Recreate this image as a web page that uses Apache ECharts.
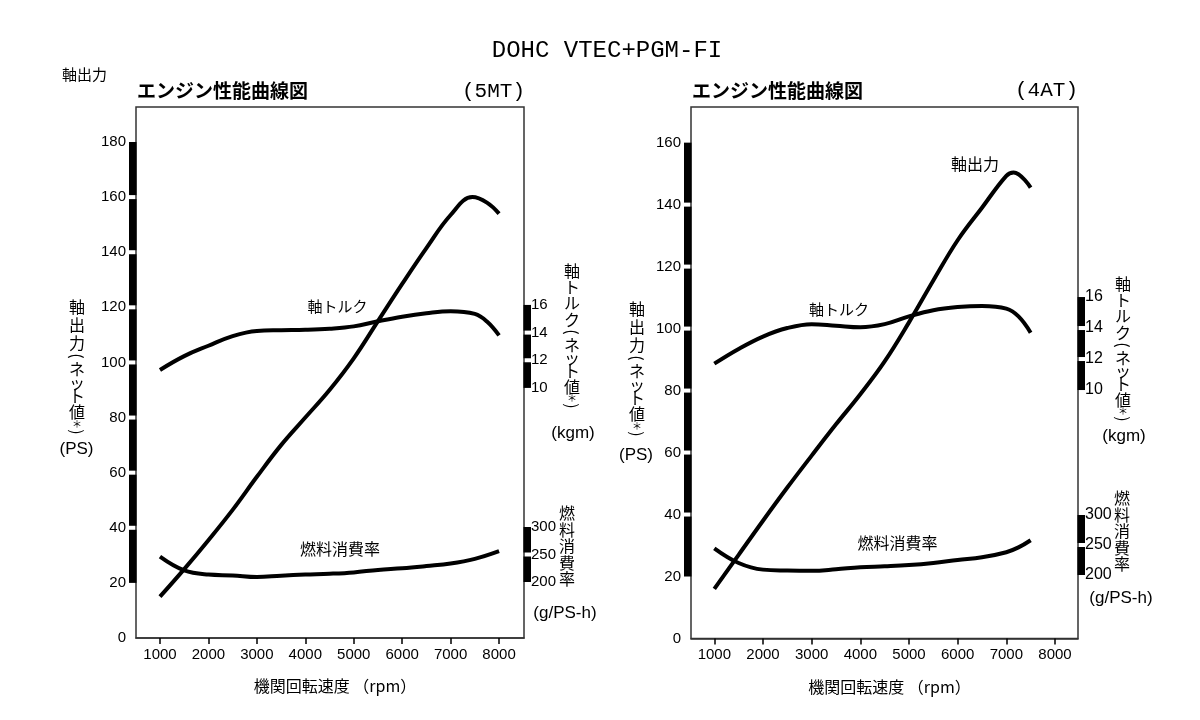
<!DOCTYPE html>
<html><head><meta charset="utf-8">
<script src="https://cdn.jsdelivr.net/npm/echarts@6/dist/echarts.min.js"></script>
<style>html,body{margin:0;padding:0;background:#fff}#c{width:1200px;height:720px}</style>
</head><body><div id="c"></div>
<script>
// ---- tick labels ----
const rpmTicks = [1000, 2000, 3000, 4000, 5000, 6000, 7000, 8000];
const psTicks5MT = [0, 20, 40, 60, 80, 100, 120, 140, 160, 180];
const psTicks4AT = [0, 20, 40, 60, 80, 100, 120, 140, 160];
const torqueTicks = [10, 12, 14, 16];
const fuelTicks = [200, 250, 300];

// ---- 5MT data ----
const rpmPower5MT = [1000,1500,2000,2500,3000,3500,4000,4500,5000,5500,6000,6500,7000,7450,7750,8000];
const power5MT    = [15,25,35.5,46.5,58.5,70,80,90,101.5,115,128.5,141.5,153.5,160,158,154];
const rpmTorque5MT = [1000,1500,2000,2500,3000,3500,4000,4500,5000,5500,6000,6500,7000,7500,7750,8000];
const torque5MT    = [11.3,12.3,13.05,13.75,14.12,14.17,14.2,14.28,14.45,14.82,15.15,15.4,15.55,15.35,14.8,13.8];
const rpmFuel5MT = [1000,1500,2000,2500,3000,3500,4000,4500,5000,5500,6000,6500,7000,7500,8000];
const fuel5MT    = [246,221,213.5,212,209,211.5,213.5,215,217.5,222,225,229,233.5,242,256];

// ---- 4AT data ----
const rpmPower4AT = [1000,1500,2000,2500,3000,3500,4000,4500,5000,5500,6000,6500,7000,7150,7500];
const power4AT    = [16,27,38,48.7,59,69.1,78.8,89.4,102,115.5,128.5,139,149.3,150.4,145.5];
const rpmTorque4AT = [1000,1500,2000,2500,3000,3500,4000,4500,5000,5500,6000,6500,7000,7250,7500];
const torque4AT    = [11.7,12.65,13.45,14.0,14.25,14.15,14.05,14.25,14.75,15.15,15.35,15.42,15.25,14.75,13.7];
const rpmFuel4AT = [1000,1500,2000,2500,3000,3500,4000,4500,5000,5500,6000,6500,7000,7250,7500];
const fuel4AT    = [244.5,220,209,207.5,207,209.5,213,214.5,216.5,220,225,229.5,238,246,258];

// ---- layout constants ----
const CJK = '"Noto Sans CJK JP", sans-serif';
const NUM = '"Liberation Sans", Arial, sans-serif';
const MONO = '"Liberation Mono", monospace';
const X5 = {min: 505, max: 8515};
const X4 = {min: 521, max: 8473};

const zip = (a, b) => a.map((v, i) => [v, b[i]]);
function segs(t) { const r = []; for (let i = 0; i < t.length - 1; i++) r.push([t[i], t[i + 1]]); return r; }

function axisBar(xi, yi, xVal, ticks, side) {
  const s = segs(ticks);
  return {
    type: 'custom', xAxisIndex: xi, yAxisIndex: yi, clip: false, silent: true, z: 5,
    data: s.map(v => [xVal, v[0], v[1]]),
    encode: {x: 0, y: [1, 2]},
    renderItem(params, api) {
      const lo = api.coord([api.value(0), api.value(1)]);
      const hi = api.coord([api.value(0), api.value(2)]);
      const i = params.dataIndex, n = s.length;
      const yb = lo[1] - (i > 0 ? 2 : 0);
      const yt = hi[1] + (i < n - 1 ? 2 : 0);
      const w = 7.5;
      const x = side === 'left' ? lo[0] - w + 0.5 : lo[0] - 0.5;
      return {type: 'rect', shape: {x: x, y: yt, width: w, height: yb - yt}, style: {fill: '#000'}};
    }
  };
}

function line(xi, yi, xs, ys) {
  return {
    type: 'line', xAxisIndex: xi, yAxisIndex: yi, data: zip(xs, ys),
    smooth: 0.4, symbol: 'none', silent: true,
    lineStyle: {color: '#000', width: 4}
  };
}

function xAxis(gi, ext) {
  return {
    type: 'value', gridIndex: gi, min: ext.min, max: ext.max,
    axisLine: {show: true, lineStyle: {color: '#333', width: 1.5}},
    axisTick: {show: true, customValues: rpmTicks, length: 6, lineStyle: {color: '#000', width: 1.5}},
    axisLabel: {customValues: rpmTicks, margin: 9, fontSize: 15, color: '#000', fontFamily: NUM,
      formatter: v => String(v)},
    splitLine: {show: false},
    name: '機関回転速度 （rpm）', nameLocation: 'middle', nameGap: 40,
    nameTextStyle: {fontSize: 16, fontFamily: CJK, color: '#000', padding: [0, 0, 0, 10]}
  };
}
function yAxis(gi, pos, min, max, ticks, margin, fs) {
  return {
    type: 'value', gridIndex: gi, position: pos, min: min, max: max,
    axisLine: {show: false}, axisTick: {show: false}, splitLine: {show: false},
    axisLabel: {customValues: ticks, margin: margin, fontSize: fs, color: '#000', fontFamily: NUM,
      formatter: v => String(v)}
  };
}

function txt(x, y, text, font, align, vAlign) {
  return {type: 'text', x: x, y: y, silent: true,
    style: {text: text, font: font, fill: '#000', align: align || 'center', verticalAlign: vAlign || 'middle'}};
}
// vertical (tategaki) label: one glyph per step, brackets turned sideways
function vtext(x, yTop, chars, big) {
  const step = c => ('()'.includes(c) ? 8 : c === '＊' ? 7 : c === 'ッ' ? 10 : c === 'ト' ? 15 : big);
  let y = yTop;
  const children = [];
  for (const c of Array.from(chars)) {
    const h = step(c);
    const el = {type: 'text', x: x, y: y + h / 2,
      style: {text: c, font: (c === '＊' ? '10px ' : '16px ') + CJK, fill: '#000', align: 'center', verticalAlign: 'middle'}};
    if ('()'.includes(c)) el.rotation = -Math.PI / 2;
    children.push(el);
    y += h;
  }
  return {type: 'group', silent: true, children: children};
}

const chart = echarts.init(document.getElementById('c'), null, {renderer: 'canvas'});
chart.setOption({
  animation: false,
  backgroundColor: '#fff',
  grid: [
    {left: 136, top: 107, width: 388, height: 531, show: true, borderColor: '#333', borderWidth: 1.5, backgroundColor: '#fff'},
    {left: 691, top: 107, width: 387, height: 531.5, show: true, borderColor: '#333', borderWidth: 1.5, backgroundColor: '#fff'}
  ],
  xAxis: [xAxis(0, X5), xAxis(1, X4)],
  yAxis: [
    yAxis(0, 'left', 0, 192.7, psTicks5MT, 10, 15),
    yAxis(0, 'right', -8.08, 30.31, torqueTicks, 7, 15),
    yAxis(0, 'right', 98.2, 1063.6, fuelTicks, 7, 15),
    yAxis(1, 'left', 0, 171.5, psTicks4AT, 10, 15),
    yAxis(1, 'right', -6.03, 28.26, torqueTicks, 7, 16),
    yAxis(1, 'right', 94.2, 980, fuelTicks, 7, 16)
  ],
  series: [
    line(0, 0, rpmPower5MT, power5MT),
    line(0, 1, rpmTorque5MT, torque5MT),
    line(0, 2, rpmFuel5MT, fuel5MT),
    line(1, 3, rpmPower4AT, power4AT),
    line(1, 4, rpmTorque4AT, torque4AT),
    line(1, 5, rpmFuel4AT, fuel4AT),
    axisBar(0, 0, X5.min, psTicks5MT.slice(1), 'left'),
    axisBar(0, 1, X5.max, torqueTicks, 'right'),
    axisBar(0, 2, X5.max, fuelTicks, 'right'),
    axisBar(1, 3, X4.min, psTicks4AT.slice(1), 'left'),
    axisBar(1, 4, X4.max, torqueTicks, 'right'),
    axisBar(1, 5, X4.max, fuelTicks, 'right')
  ],
  graphic: [
    txt(607, 51, 'DOHC VTEC+PGM-FI', '24px ' + MONO),
    txt(62, 74, '軸出力', '15px ' + CJK, 'left'),
    txt(137, 91, 'エンジン性能曲線図', 'bold 19px ' + CJK, 'left'),
    txt(525, 91, '(5MT)', '21px ' + MONO, 'right'),
    txt(692, 91, 'エンジン性能曲線図', 'bold 19px ' + CJK, 'left'),
    txt(1078, 90, '(4AT)', '21px ' + MONO, 'right'),
    vtext(77, 298, '軸出力(ネット値＊)', 18),
    txt(76.5, 449, '(PS)', '17px ' + NUM),
    vtext(637, 300, '軸出力(ネット値＊)', 18),
    txt(636, 455, '(PS)', '17px ' + NUM),
    vtext(572, 262, '軸トルク(ネット値＊)', 17),
    txt(573, 433, '(kgm)', '17px ' + NUM),
    vtext(567, 505, '燃料消費率', 16.5),
    txt(565, 613, '(g/PS-h)', '17px ' + NUM),
    vtext(1123, 275, '軸トルク(ネット値＊)', 17),
    txt(1124, 436, '(kgm)', '17px ' + NUM),
    vtext(1122, 490, '燃料消費率', 16.5),
    txt(1121, 598, '(g/PS-h)', '17px ' + NUM),
    txt(337.5, 306.5, '軸トルク', '15px ' + CJK),
    txt(340, 549, '燃料消費率', '16px ' + CJK),
    txt(975, 164, '軸出力', '16px ' + CJK),
    txt(839, 309, '軸トルク', '15px ' + CJK),
    txt(897.5, 542.5, '燃料消費率', '16px ' + CJK)
  ]
});
</script>
</body></html>
